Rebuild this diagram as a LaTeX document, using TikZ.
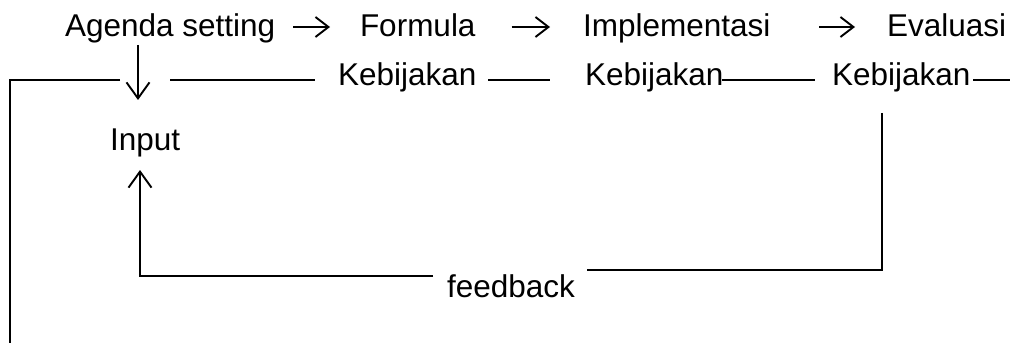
\documentclass[tikz,border=0pt]{standalone}
\usepackage{fontspec}
\setmainfont{Liberation Sans}
\usetikzlibrary{arrows.meta,calc}
\tikzset{
  lbl/.style={inner sep=0pt, outer sep=0pt, anchor=base west,
    font=\fontsize{31.5}{36}\selectfont},
  wire/.style={line width=1.9pt, line cap=butt},
  harr/.style={wire, -{Straight Barb[length=13pt,width=20pt,line width=1.9pt]}},
  varr/.style={wire, -{Straight Barb[length=16pt,width=23pt,line width=1.9pt]}}
}
\begin{document}
\begin{tikzpicture}[x=1pt,y=-1pt]
  \useasboundingbox (0,0) rectangle (1013,345);

  % stages of the policy cycle
  \node[lbl] (agenda) at (65,37)  {Agenda setting};
  \node[lbl] (formula) at (360,37) {Formula};
  \node[lbl] (impl)   at (583,37) {Implementasi};
  \node[lbl] (eval)   at (887,37) {Evaluasi};

  \node[lbl] (k1) at (338,86) {Kebijakan};
  \node[lbl] (k2) at (585,86) {Kebijakan};
  \node[lbl] (k3) at (832,86) {Kebijakan};

  \node[lbl] (input) at (110,150) {Input};
  \node[lbl] (fb)    at (447,297) {feedback};

  % arrows between the stages
  \draw[harr] ($(agenda.base east)+(18,-10)$) -- ($(formula.base west)+(-30,-10)$);
  \draw[harr] ($(formula.base east)+(36,-10)$) -- ($(impl.base west)+(-33,-10)$);
  \draw[harr] ($(impl.base east)+(49,-10)$) -- ($(eval.base west)+(-32,-10)$);

  % from agenda setting down to the input
  \draw[varr] ($(agenda.base west)+(73,8)$) -- ($(input.base west)+(28,-50)$);

  % the policy line
  \coordinate (leftend) at (10,343);
  \draw[wire] ($(input.base west)+(10,-70)$) -- (10,80) -- (leftend);
  \draw[wire] ($(k1.base west)+(-168,-6)$) -- ($(k1.base west)+(-23,-6)$);
  \draw[wire] ($(k1.base east)+(12,-6)$) -- ($(k2.base west)+(-35,-6)$);
  \draw[wire] ($(k2.base east)+(-1,-6)$) -- ($(k3.base west)+(-17,-6)$);
  \coordinate (rightend) at (1010,80);
  \draw[wire] ($(k3.base east)+(3,-6)$) -- (rightend);

  % feedback loop back to the input
  \draw[wire] ($(k3.base west)+(50,27)$) |- ($(fb.base east)+(12,-27)$);
  \draw[varr] ($(fb.base west)+(-14,-21)$) -| ($(input.base west)+(30,20)$);
\end{tikzpicture}
\end{document}
